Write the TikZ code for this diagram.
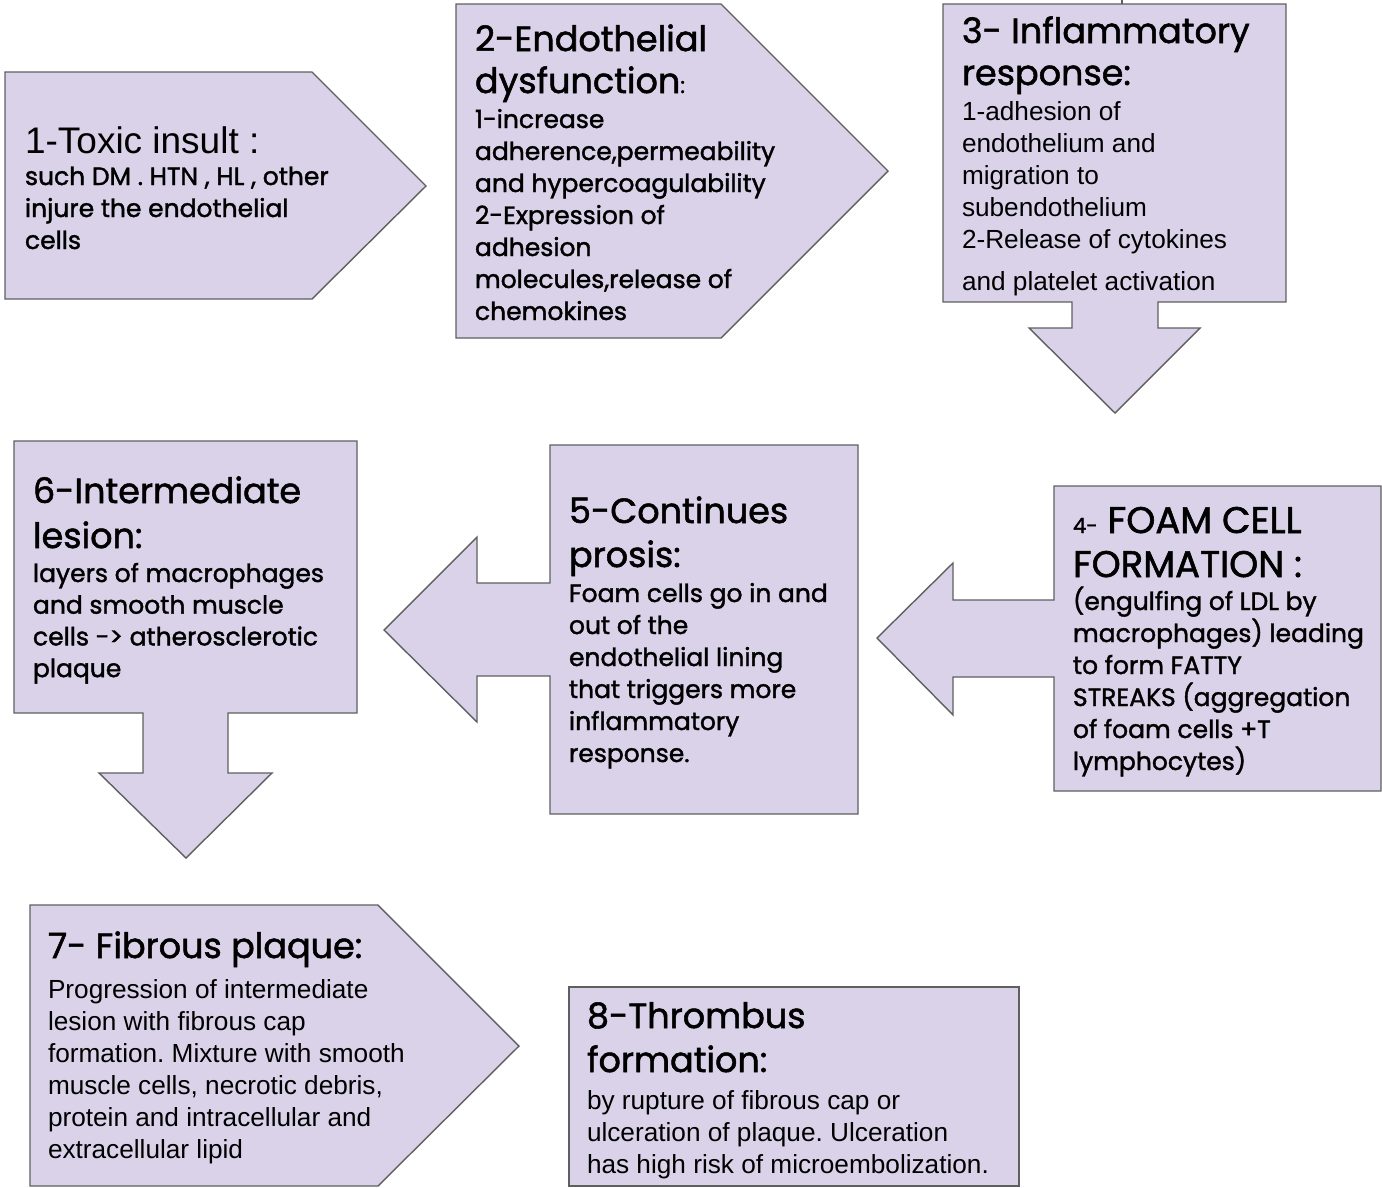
\documentclass[tikz,border=0pt]{standalone}
\usepackage{fontspec}
\newfontfamily\rf[FakeBold=1.5]{Poppins}
\newfontfamily\af{Liberation Sans}
\newcommand\fs[1]{\fontsize{#1}{#1}\selectfont}
\definecolor{lav}{HTML}{D9D2E9}
\definecolor{edge}{HTML}{5F5F5F}
\frenchspacing
\begin{document}
\begin{tikzpicture}[x=1pt,y=-1pt,
  shp/.style={fill=lav,draw=edge,line width=1.4pt,line join=miter},
  txt/.style={anchor=base west,inner sep=0pt,outer sep=0pt,text=black},
  hd/.style={txt,font=\rf\fs{35}},
  bd/.style={txt,font=\rf\fs{25}},
  ar/.style={txt,font=\af\fs{26.2}}]
\useasboundingbox (0,0) rectangle (1382,1187);
% shapes
\draw[shp] (5,72) -- (312,72) -- (426,186) -- (312,299) -- (5,299) -- cycle;
\draw[shp] (456,4) -- (721,4) -- (888,171) -- (721,338) -- (456,338) -- cycle;
\draw[edge,line width=1.4pt] (1122,0) -- (1122,4);
\draw[shp] (943,4) -- (1286,4) -- (1286,302) -- (1158,302) -- (1158,328) -- (1200,328) -- (1115,413) -- (1029,328) -- (1072,328) -- (1072,302) -- (943,302) -- cycle;
\draw[shp] (1054,486) -- (1381,486) -- (1381,791) -- (1054,791) -- (1054,677) -- (953,677) -- (953,715) -- (877,638) -- (953,563) -- (953,600) -- (1054,600) -- cycle;
\draw[shp] (550,445) -- (858,445) -- (858,814) -- (550,814) -- (550,676) -- (477,676) -- (477,722) -- (384,630) -- (477,537) -- (477,583) -- (550,583) -- cycle;
\draw[shp] (14,441) -- (357,441) -- (357,713) -- (228,713) -- (228,773) -- (272,773) -- (186,858) -- (99,773) -- (143,773) -- (143,713) -- (14,713) -- cycle;
\draw[shp] (30,905) -- (378,905) -- (519,1046) -- (378,1186) -- (30,1186) -- cycle;
\draw[shp] (569,987) rectangle (1019,1186);
% box 1
\node[txt,font=\af\fs{37}] (h1) at (25,153) {1-Toxic insult :};
\foreach \t [count=\i from 0] in {{such DM . HTN , HL , other},{injure the endothelial},{cells}}
  \node[bd,name=b1\i] at (25,185+32*\i) {\t};
% box 2
\node[hd] (h2a) at (475,51) {2-Endothelial};
\node[hd] (h2b) at (475,93) {dysfunction{\fs{22}:}};
\foreach \t [count=\i from 0] in {{1-increase},{adherence,permeability},{and hypercoagulability},{2-Expression of},{adhesion},{molecules,release of},{chemokines}}
  \node[bd,name=b2\i] at (475,128+32*\i) {\t};
% box 3
\node[hd] (h3a) at (962,43) {3- Inflammatory};
\node[hd] (h3b) at (962,85) {response:};
\foreach \t [count=\i from 0] in {{1-adhesion of},{endothelium and},{migration to},{subendothelium},{2-Release of cytokines}}
  \node[ar,name=b3\i] at (962,120+32*\i) {\t};
\node[ar] (b35) at (962,290) {and platelet activation};
% box 4
\node[txt,font=\rf\fs{37}] (h4a) at (1073,533) {{\fs{21}4-} FOAM CELL};
\node[txt,font=\rf\fs{37}] (h4b) at (1073,577) {FORMATION :};
\foreach \t [count=\i from 0] in {{(engulfing of LDL by},{macrophages) leading},{to form FATTY},{STREAKS (aggregation},{of foam cells +T},{lymphocytes)}}
  \node[bd,name=b4\i] at (1073,610+32*\i) {\t};
% box 5
\node[hd] (h5a) at (569,523) {5-Continues};
\node[hd] (h5b) at (569,567) {prosis:};
\foreach \t [count=\i from 0] in {{Foam cells go in and},{out of the},{endothelial lining},{that triggers more},{inflammatory},{response.}}
  \node[bd,name=b5\i] at (569,602+32*\i) {\t};
% box 6
\node[hd] (h6a) at (33,503) {6-Intermediate};
\node[hd] (h6b) at (33,548) {lesion:};
\foreach \t [count=\i from 0] in {{layers of macrophages},{and smooth muscle},{cells -> atherosclerotic},{plaque}}
  \node[bd,name=b6\i] at (33,582+31.7*\i) {\t};
% box 7
\node[hd] (h7) at (48,958) {7- Fibrous plaque:};
\foreach \t [count=\i from 0] in {{Progression of intermediate},{lesion with fibrous cap},{formation. Mixture with smooth},{muscle cells, necrotic debris,},{protein and intracellular and},{extracellular lipid}}
  \node[ar,name=b7\i] at (48,998+32*\i) {\t};
% box 8
\node[hd] (h8a) at (587,1028) {8-Thrombus};
\node[hd] (h8b) at (587,1072) {formation:};
\foreach \t [count=\i from 0] in {{by rupture of fibrous cap or},{ulceration of plaque. Ulceration},{has high risk of microembolization.}}
  \node[ar,name=b8\i] at (587,1109+32*\i) {\t};
\end{tikzpicture}
\end{document}
